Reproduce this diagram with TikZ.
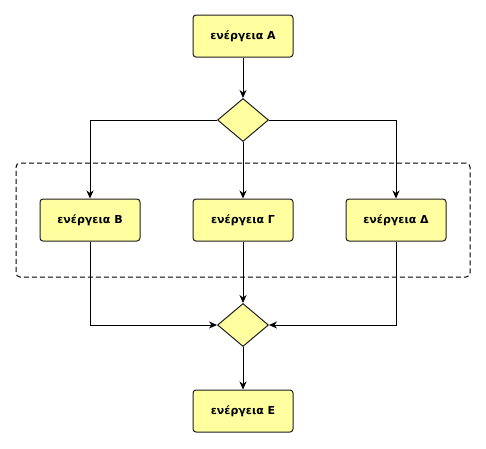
\documentclass[tikz,border=0pt]{standalone}
\usepackage{fontspec}
\newfontfamily\greekfont{DejaVu Sans}
\usetikzlibrary{positioning, arrows.meta, shapes.geometric}

\definecolor{actfill}{RGB}{255,255,160}
\definecolor{actline}{RGB}{30,30,30}

\begin{document}
\begin{tikzpicture}[
    x=1pt, y=-1pt,
    line width=1pt,
    % Activity box style
    activity/.style={
        rectangle,
        rounded corners=3pt,
        draw=actline,
        fill=actfill,
        minimum width=100pt,
        minimum height=42pt,
        font=\greekfont\bfseries\fontsize{11}{13}\selectfont
    },
    % Decision diamond style
    decision/.style={
        diamond,
        draw=actline,
        fill=actfill,
        inner sep=0pt,
        minimum width=51pt,
        minimum height=43pt
    },
    % Dashed group style
    group/.style={
        rectangle,
        rounded corners=4pt,
        draw=black,
        dash pattern=on 5pt off 3pt,
        minimum width=454pt,
        minimum height=114pt
    },
    % Arrow style
    arrow/.style={
        -{Stealth[length=8pt, width=7pt, inset=2.5pt]},
        black
    }
]
\useasboundingbox (0,0) rectangle (486,448);

% === Group frame ===
\node[group] (grp) at (243, 220) {};

% === Activities ===
\node[activity] (actA) at (243, 36) {ενέργεια A};
\node[activity] (actB) at (90, 220) {ενέργεια B};
\node[activity] (actG) at (243, 220) {ενέργεια Γ};
\node[activity] (actD) at (396, 220) {ενέργεια Δ};
\node[activity] (actE) at (243, 411) {ενέργεια E};

% === Decisions ===
\node[decision] (fork) at (243, 120) {};
\node[decision] (join) at (243, 325) {};

% === Arrows ===
\draw[arrow] (actA) -- (fork);
\draw[arrow] (fork.west) -| (actB);
\draw[arrow] (fork) -- (actG);
\draw[arrow] (fork.east) -| (actD);
\draw[arrow] (actB) |- (join.west);
\draw[arrow] (actG) -- (join);
\draw[arrow] (actD) |- (join.east);
\draw[arrow] (join) -- (actE);

\end{tikzpicture}
\end{document}
